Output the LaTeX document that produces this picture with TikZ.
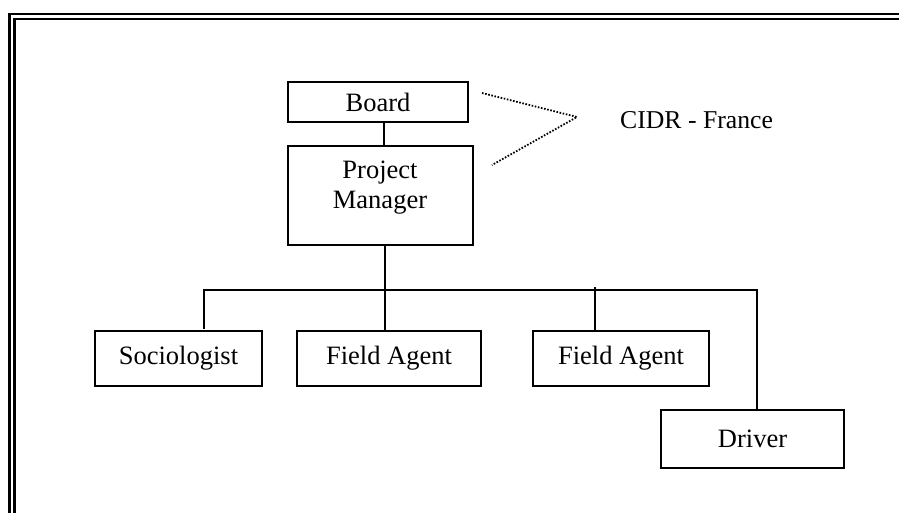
\documentclass[tikz,border=0pt]{standalone}
\usepackage{fontspec}
\setmainfont{Liberation Serif}
\begin{document}
\begin{tikzpicture}[x=1pt,y=-1pt,
  orgbox/.style={draw, line width=2pt, inner sep=0pt, outer sep=0pt,
    font=\fontsize{26.5}{30}\selectfont, align=center},
  link/.style={line width=2pt},
  dotline/.style={line width=1.8pt, dash pattern=on 1.6pt off 1.6pt},
  frameline/.style={line width=2.6pt}]
\useasboundingbox (0,0) rectangle (899,513);
\clip (0,0) rectangle (899,513);
\fill[white] (0,0) rectangle (899,513);

% double page frame
\draw[frameline] (9.5,530) -- (9.5,14) -- (920,14);
\draw[frameline] (14.5,530) -- (14.5,19) -- (920,19);

% boxes
\node[orgbox, minimum width=180pt, minimum height=40pt] (board) at (378,102) {Board};
\node[orgbox, minimum width=185pt, minimum height=99pt] (pm) at (380.5,195.5) {};
\node[font=\fontsize{26.5}{30}\selectfont, align=center, inner sep=0pt] (pmtext) at (380,188) {Project\\Manager};
\node[orgbox, minimum width=167pt, minimum height=55pt] (soc) at (178.5,358.5) {Sociologist};
\node[orgbox, minimum width=184pt, minimum height=55pt] (fa1) at (389,358.5) {Field Agent};
\node[orgbox, minimum width=176pt, minimum height=55pt] (fa2) at (621,358.5) {Field Agent};
\node[orgbox, minimum width=183pt, minimum height=58pt] (drv) at (752.5,439) {Driver};

\node[font=\fontsize{25.7}{30}\selectfont, inner sep=0pt, anchor=west] (cidr) at (620,120) {CIDR - France};

% connectors
\coordinate (bus) at (385,290);
\coordinate (busL) at (204,290);
\coordinate (busR) at (756.5,290);
\coordinate (fa2top) at (595,287);
\draw[link] ([xshift=6pt]board.south) -- ([xshift=6pt]board.south |- pm.north);
\draw[link] (pm.south -| bus) -- (bus) -- (bus |- fa1.north);
\draw[link] ([yshift=2pt]soc.north -| busL) -- (busL) -- (busR) -- (busR |- drv.north);
\draw[link] (fa2top) -- (fa2top |- fa2.north);

% bracket towards CIDR - France
\coordinate (tip) at (577,117);
\coordinate (d1) at (482,93);
\coordinate (d2) at (492,165);
\draw[dotline] (d1) -- (tip) -- (d2);
\end{tikzpicture}
\end{document}
